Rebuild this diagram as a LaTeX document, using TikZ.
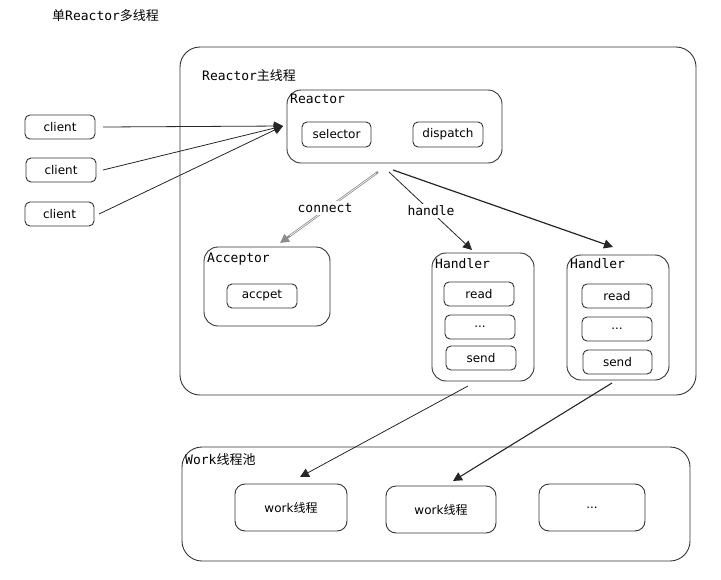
\documentclass[tikz,border=0pt]{standalone}
\usepackage{fontspec}
\setmainfont{DejaVu Sans}
\newfontfamily\cjk{Noto Sans CJK SC}
\newfontfamily\monof{DejaVu Sans Mono}
\usetikzlibrary{arrows.meta,calc}
\begin{document}
\begin{tikzpicture}[x=1pt,y=-1pt,
  box/.style={draw=black!80,line width=0.9pt,rounded corners=#1},
  box/.default=6pt,
  lbl/.style={font=\monof\fontsize{13}{15}\selectfont,anchor=north west,inner sep=0pt},
  hand/.style={font=\fontsize{12}{14}\selectfont,inner sep=0pt},
  arr/.style={-{Triangle[length=9pt,width=9pt]},line width=0.8pt,draw=black!85},
]
\useasboundingbox (0,0) rectangle (721,579);
\node[font=\fontsize{13}{15}\selectfont,anchor=west,inner sep=0pt] (title) at (52,16) {{\cjk 单}{\monof Reactor}{\cjk 多线程}};

% main thread box
\draw[box=20pt] (180,47) rectangle (696,395);
\node[lbl] (mainlbl) at (202,69) {Reactor{\cjk 主线程}};

% Reactor
\node[box=14pt,minimum width=215pt,minimum height=73pt] (reactor) at (394.5,126.5) {};
\node[lbl] (reactorlbl) at (290,94) {Reactor};
\node[box=5pt,minimum width=69pt,minimum height=25pt,hand] (selector) at (336.5,134.5) {selector};
\node[box=5pt,minimum width=70pt,minimum height=25pt,hand] (dispatch) at (448,134.5) {dispatch};

% clients
\node[box=5pt,minimum width=70pt,minimum height=24pt,hand] (c1) at (60,127) {client};
\node[box=5pt,minimum width=70pt,minimum height=24pt,hand] (c2) at (61,170) {client};
\node[box=5pt,minimum width=69pt,minimum height=24pt,hand] (c3) at (59.5,214) {client};
\coordinate (rin) at (283,126);
\coordinate (c1o) at (103,127);
\coordinate (c2o) at (103,170);
\coordinate (c3o) at (99,214);
\draw[arr] (c1o) -- (rin);
\draw[arr] (c2o) -- (rin);
\draw[arr] (c3o) -- (rin);

% Acceptor
\node[box=14pt,minimum width=126pt,minimum height=79pt] (acceptor) at (267,286.5) {};
\node[lbl] (acclbl) at (207,253) {Acceptor};
\node[box=5pt,minimum width=70pt,minimum height=24pt,hand] (accpet) at (262,296) {accpet};

% Handler 1
\node[box=14pt,minimum width=102pt,minimum height=128pt] (h1) at (483,317) {};
\node[lbl] (h1lbl) at (435,258) {Handler};
\node[box=5pt,minimum width=70pt,minimum height=24pt,hand] (h1r) at (479,294) {read};
\node[box=5pt,minimum width=70pt,minimum height=24pt,hand] (h1d) at (480,327) {...};
\node[box=5pt,minimum width=70pt,minimum height=24pt,hand] (h1s) at (481,358) {send};

% Handler 2
\node[box=14pt,minimum width=102pt,minimum height=125pt] (h2) at (618,317.5) {};
\node[lbl] (h2lbl) at (570,258) {Handler};
\node[box=5pt,minimum width=70pt,minimum height=24pt,hand] (h2r) at (617,296) {read};
\node[box=5pt,minimum width=70pt,minimum height=24pt,hand] (h2d) at (617,329) {...};
\node[box=5pt,minimum width=69pt,minimum height=24pt,hand] (h2s) at (617.5,362) {send};

% reactor -> acceptor / handlers
\coordinate (ra) at (378,172);
\coordinate (rb) at (389,172);
\coordinate (rc) at (393,170);
\coordinate (acin) at (280,243);
\coordinate (h1in) at (472,250);
\coordinate (h2in) at (613,247);
\draw[-{Triangle[length=9pt,width=9pt]},line width=2.2pt,draw=black!45] (ra) -- (acin);
\draw[draw=white,line width=0.6pt] ($(ra)!0.02!(acin)$) -- ($(ra)!0.9!(acin)$);
\node[fill=white,font=\monof\fontsize{13}{15}\selectfont,inner sep=2pt] (connect) at (325,208) {connect};
\draw[arr] (rb) -- (h1in);
\node[fill=white,font=\monof\fontsize{13}{15}\selectfont,inner sep=2pt] (handle) at (431,211) {handle};
\draw[arr,line width=1.2pt] (rc) -- (h2in);

% Work pool
\draw[box=20pt] (182,447) rectangle (690,561);
\node[lbl] (poollbl) at (185,453) {Work{\cjk 线程池}};
\node[box=10pt,minimum width=112pt,minimum height=47pt,hand] (w1) at (291,507.5) {work{\cjk 线程}};
\node[box=10pt,minimum width=110pt,minimum height=47pt,hand] (w2) at (441,509.5) {work{\cjk 线程}};
\node[box=10pt,minimum width=106pt,minimum height=47pt,hand] (w3) at (592,507.5) {...};

\coordinate (h1o) at (468,386);
\coordinate (h2o) at (612,383);
\coordinate (w1in) at (300,477);
\coordinate (w2in) at (453,481);
\draw[arr] (h1o) -- (w1in);
\draw[arr,line width=1.1pt] (h2o) -- (w2in);
\end{tikzpicture}
\end{document}
